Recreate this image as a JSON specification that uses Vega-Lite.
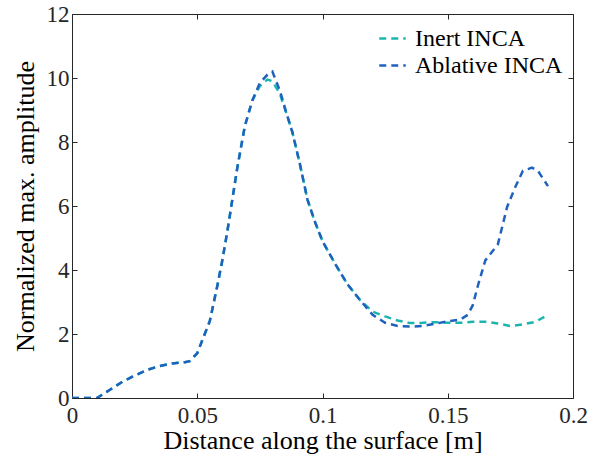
{
  "$schema": "https://vega.github.io/schema/vega-lite/v6.json",
  "autosize": {"type": "none"},
  "padding": {"left": 72, "top": 14, "right": 16, "bottom": 65},
  "width": 501,
  "height": 384,
  "background": "white",
  "config": {
    "font": "Liberation Serif",
    "view": {"stroke": null},
    "legend": {"labelFont": "Liberation Serif", "titleFont": "Liberation Serif"},
    "axis": {"labelFont": "Liberation Serif", "titleFont": "Liberation Serif", "domainColor": "#262626", "tickColor": "#262626", "grid": false, "labelColor": "#262626", "titleColor": "#000", "labelFontSize": 23, "titleFontSize": 26, "titleFontWeight": "normal", "tickSize": -5, "domainWidth": 1, "tickWidth": 1}
  },
  "data": {"values": [
    {"x":0,"y":0,"s":"Inert INCA"},{"x":0.005,"y":0,"s":"Inert INCA"},{"x":0.01,"y":0,"s":"Inert INCA"},{"x":0.015,"y":0.25,"s":"Inert INCA"},{"x":0.02,"y":0.5,"s":"Inert INCA"},{"x":0.025,"y":0.7,"s":"Inert INCA"},{"x":0.03,"y":0.88,"s":"Inert INCA"},{"x":0.035,"y":1.0,"s":"Inert INCA"},{"x":0.04,"y":1.08,"s":"Inert INCA"},{"x":0.045,"y":1.12,"s":"Inert INCA"},{"x":0.047,"y":1.15,"s":"Inert INCA"},{"x":0.05,"y":1.4,"s":"Inert INCA"},{"x":0.053,"y":2.0,"s":"Inert INCA"},{"x":0.055,"y":2.4,"s":"Inert INCA"},{"x":0.058,"y":3.5,"s":"Inert INCA"},{"x":0.06,"y":4.3,"s":"Inert INCA"},{"x":0.062,"y":5.2,"s":"Inert INCA"},{"x":0.064,"y":6.2,"s":"Inert INCA"},{"x":0.066,"y":7.2,"s":"Inert INCA"},{"x":0.069,"y":8.5,"s":"Inert INCA"},{"x":0.072,"y":9.3,"s":"Inert INCA"},{"x":0.075,"y":9.75,"s":"Inert INCA"},{"x":0.078,"y":9.95,"s":"Inert INCA"},{"x":0.08,"y":9.9,"s":"Inert INCA"},{"x":0.083,"y":9.5,"s":"Inert INCA"},{"x":0.086,"y":8.8,"s":"Inert INCA"},{"x":0.088,"y":8.3,"s":"Inert INCA"},{"x":0.091,"y":7.3,"s":"Inert INCA"},{"x":0.094,"y":6.2,"s":"Inert INCA"},{"x":0.097,"y":5.5,"s":"Inert INCA"},{"x":0.1,"y":4.9,"s":"Inert INCA"},{"x":0.105,"y":4.2,"s":"Inert INCA"},{"x":0.11,"y":3.55,"s":"Inert INCA"},{"x":0.115,"y":3.06,"s":"Inert INCA"},{"x":0.12,"y":2.7,"s":"Inert INCA"},{"x":0.125,"y":2.55,"s":"Inert INCA"},{"x":0.13,"y":2.42,"s":"Inert INCA"},{"x":0.135,"y":2.34,"s":"Inert INCA"},{"x":0.14,"y":2.35,"s":"Inert INCA"},{"x":0.145,"y":2.37,"s":"Inert INCA"},{"x":0.15,"y":2.35,"s":"Inert INCA"},{"x":0.155,"y":2.35,"s":"Inert INCA"},{"x":0.16,"y":2.38,"s":"Inert INCA"},{"x":0.165,"y":2.38,"s":"Inert INCA"},{"x":0.17,"y":2.33,"s":"Inert INCA"},{"x":0.175,"y":2.25,"s":"Inert INCA"},{"x":0.18,"y":2.3,"s":"Inert INCA"},{"x":0.185,"y":2.38,"s":"Inert INCA"},{"x":0.19,"y":2.6,"s":"Inert INCA"},
    {"x":0,"y":0,"s":"Ablative INCA"},{"x":0.005,"y":0,"s":"Ablative INCA"},{"x":0.01,"y":0,"s":"Ablative INCA"},{"x":0.015,"y":0.25,"s":"Ablative INCA"},{"x":0.02,"y":0.5,"s":"Ablative INCA"},{"x":0.025,"y":0.7,"s":"Ablative INCA"},{"x":0.03,"y":0.88,"s":"Ablative INCA"},{"x":0.035,"y":1.0,"s":"Ablative INCA"},{"x":0.04,"y":1.08,"s":"Ablative INCA"},{"x":0.045,"y":1.12,"s":"Ablative INCA"},{"x":0.047,"y":1.15,"s":"Ablative INCA"},{"x":0.05,"y":1.4,"s":"Ablative INCA"},{"x":0.053,"y":2.0,"s":"Ablative INCA"},{"x":0.055,"y":2.4,"s":"Ablative INCA"},{"x":0.058,"y":3.5,"s":"Ablative INCA"},{"x":0.06,"y":4.3,"s":"Ablative INCA"},{"x":0.062,"y":5.2,"s":"Ablative INCA"},{"x":0.064,"y":6.2,"s":"Ablative INCA"},{"x":0.066,"y":7.2,"s":"Ablative INCA"},{"x":0.069,"y":8.5,"s":"Ablative INCA"},{"x":0.072,"y":9.3,"s":"Ablative INCA"},{"x":0.075,"y":9.85,"s":"Ablative INCA"},{"x":0.078,"y":10.1,"s":"Ablative INCA"},{"x":0.08,"y":10.2,"s":"Ablative INCA"},{"x":0.083,"y":9.6,"s":"Ablative INCA"},{"x":0.086,"y":8.8,"s":"Ablative INCA"},{"x":0.088,"y":8.3,"s":"Ablative INCA"},{"x":0.091,"y":7.3,"s":"Ablative INCA"},{"x":0.094,"y":6.2,"s":"Ablative INCA"},{"x":0.097,"y":5.5,"s":"Ablative INCA"},{"x":0.1,"y":4.9,"s":"Ablative INCA"},{"x":0.105,"y":4.2,"s":"Ablative INCA"},{"x":0.11,"y":3.55,"s":"Ablative INCA"},{"x":0.115,"y":3.06,"s":"Ablative INCA"},{"x":0.12,"y":2.6,"s":"Ablative INCA"},{"x":0.125,"y":2.35,"s":"Ablative INCA"},{"x":0.13,"y":2.25,"s":"Ablative INCA"},{"x":0.135,"y":2.23,"s":"Ablative INCA"},{"x":0.14,"y":2.25,"s":"Ablative INCA"},{"x":0.145,"y":2.32,"s":"Ablative INCA"},{"x":0.15,"y":2.4,"s":"Ablative INCA"},{"x":0.155,"y":2.45,"s":"Ablative INCA"},{"x":0.158,"y":2.6,"s":"Ablative INCA"},{"x":0.16,"y":2.9,"s":"Ablative INCA"},{"x":0.162,"y":3.5,"s":"Ablative INCA"},{"x":0.165,"y":4.3,"s":"Ablative INCA"},{"x":0.17,"y":4.8,"s":"Ablative INCA"},{"x":0.1737,"y":5.97,"s":"Ablative INCA"},{"x":0.177,"y":6.6,"s":"Ablative INCA"},{"x":0.18,"y":7.1,"s":"Ablative INCA"},{"x":0.1836,"y":7.2,"s":"Ablative INCA"},{"x":0.186,"y":7.1,"s":"Ablative INCA"},{"x":0.19,"y":6.62,"s":"Ablative INCA"}
  ]},
  "layer": [
    {
      "mark": {"type": "line", "strokeWidth": 2.5, "strokeDash": [7, 5], "clip": true},
      "encoding": {
        "x": {"field": "x", "type": "quantitative", "scale": {"domain": [0, 0.2], "nice": false, "zero": false},
              "axis": {"title": "Distance along the surface [m]", "values": [0, 0.05, 0.1, 0.15, 0.2], "format": "~g", "labelPadding": 11, "titlePadding": 0, "labelFlush": false}},
        "y": {"field": "y", "type": "quantitative", "scale": {"domain": [0, 12], "nice": false},
              "axis": {"title": "Normalized max. amplitude", "values": [0, 2, 4, 6, 8, 10, 12], "labelPadding": 8, "titlePadding": 8, "labelFlush": false}},
        "color": {"field": "s", "type": "nominal",
                  "scale": {"domain": ["Inert INCA", "Ablative INCA"], "range": ["#1bb5ae", "#1f62be"]},
                  "legend": {"title": null, "orient": "none", "legendX": 306, "legendY": 10, "symbolType": "stroke", "symbolStrokeWidth": 2.5, "symbolDash": [7, 5], "symbolSize": 700, "labelFontSize": 24, "labelColor": "#000", "rowPadding": 0, "labelOffset": 8}},
        "order": {"field": "x", "type": "quantitative"}
      }
    },
    {
      "mark": {"type": "line", "opacity": 0},
      "encoding": {
        "x": {"field": "x", "type": "quantitative", "axis": {"orient": "top", "title": null, "labels": false, "values": [0, 0.05, 0.1, 0.15, 0.2]}},
        "y": {"field": "y", "type": "quantitative", "axis": {"orient": "right", "title": null, "labels": false, "values": [0, 2, 4, 6, 8, 10, 12]}}
      }
    }
  ],
  "resolve": {"axis": {"x": "independent", "y": "independent"}}
}
